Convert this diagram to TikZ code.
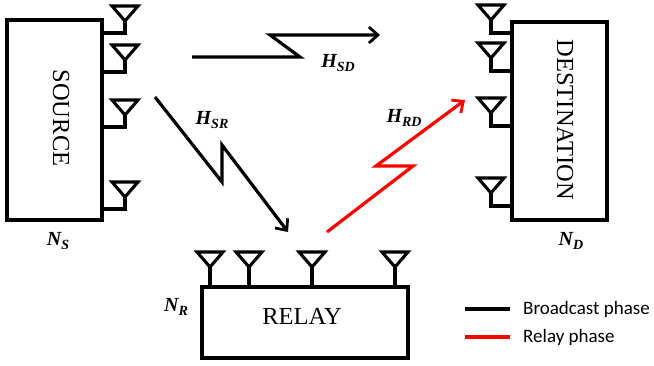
\documentclass[tikz,border=0pt]{standalone}
\usepackage{fontspec}
\setmainfont{Liberation Serif}
\newfontfamily\legendfont{Carlito}
\usetikzlibrary{arrows.meta}
\newcommand{\chlabel}[2]{{\fontsize{20}{24}\selectfont\bfseries\itshape #1\raisebox{-4pt}{\fontsize{14}{16}\selectfont #2}}}
\tikzset{
  box/.style={draw=black, line width=3.1pt, fill=white, inner sep=0pt},
  boxtext/.style={font=\fontsize{24.5}{28}\selectfont, inner sep=0pt},
  wire/.style={draw=black, line width=3.1pt, line join=miter},
  link/.style={line width=3.2pt, line join=miter, -{Straight Barb[length=9pt,width=16pt,line width=2.8pt]}},
  bc/.style={link, black},
  rp/.style={link, red},
  lbl/.style={inner sep=0pt},
  legtext/.style={font=\legendfont\fontsize{19}{22}\selectfont, anchor=west, inner sep=0pt},
  ant/.pic={\draw[wire] (-13,0) -- (13,0) -- (0,15) -- cycle;}
}
\begin{document}
\begin{tikzpicture}[x=1pt,y=-1pt]
\useasboundingbox (0,0) rectangle (654,366);
% boxes
\node[box, minimum width=95pt, minimum height=200pt] (src) at (54.5,120) {};
\node[boxtext, rotate=-90] (srctext) at (61,118) {SOURCE};
\node[box, minimum width=95pt, minimum height=198pt] (dst) at (559.5,121) {};
\node[boxtext, rotate=-90] (dsttext) at (565,120) {DESTINATION};
\node[box, minimum width=206pt, minimum height=71pt] (rel) at (305,322.5) {};
\node[boxtext] (reltext) at (302,316) {RELAY};
% source antennas
\foreach \y in {6,45,100,182}{
  \pic at (125,\y) {ant};
  \draw[wire] (125,\y+15) -- (125,\y+27) -- (src.east |- 0,\y+27);
}
% destination antennas
\foreach \y in {5,43,98,178}{
  \pic at (491,\y) {ant};
  \draw[wire] (491,\y+15) -- (491,\y+28) -- (dst.west |- 0,\y+28);
}
% relay antennas
\foreach \x in {210,249,312,395}{
  \pic at (\x,252) {ant};
  \draw[wire] (\x,266) -- (\x,0 |- rel.north);
}
% links
\coordinate (sdA) at (192,57);
\coordinate (sdB) at (380,35);
\draw[bc] (sdA) -- (300,57) -- (270,35) -- (sdB);
\coordinate (srA) at (155,97);
\coordinate (srB) at (288,232);
\draw[bc] (srA) -- (222,182) -- (222,145) -- (srB);
\coordinate (rdA) at (327,232);
\coordinate (rdB) at (465,100);
\draw[rp] (rdA) -- (413,166) -- (376,166) -- (rdB);
% labels
\node[lbl] (hsd) at (338,63) {\chlabel{H}{SD}};
\node[lbl] (hsr) at (212,120) {\chlabel{H}{SR}};
\node[lbl] (hrd) at (404,118) {\chlabel{H}{RD}};
\node[lbl] (ns) at (58,241) {\chlabel{N}{S}};
\node[lbl] (nd) at (571,241) {\chlabel{N}{D}};
\node[lbl] (nr) at (176,307) {\chlabel{N}{R}};
% legend
\coordinate (lbA) at (465,309); \coordinate (lbB) at (510,309);
\draw[black, line width=3.3pt] (lbA) -- (lbB);
\coordinate (lrA) at (465,337); \coordinate (lrB) at (510,337);
\draw[red, line width=3.3pt] (lrA) -- (lrB);
\node[legtext] (lbt) at (523,309) {Broadcast phase};
\node[legtext] (lrt) at (523,337) {Relay phase};
\end{tikzpicture}
\end{document}
